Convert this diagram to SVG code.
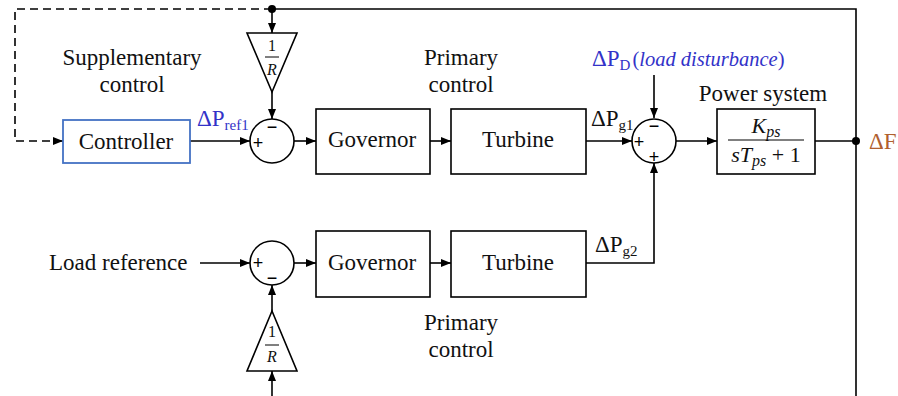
<svg xmlns="http://www.w3.org/2000/svg" width="898" height="396" viewBox="0 0 898 396">
<style>
.ln{fill:none;stroke:#000;stroke-width:1.6}
.arr{marker-end:url(#ah)}
.box{fill:#fff;stroke:#000;stroke-width:1.6}
.ctl{fill:#fff;stroke:#4472C4;stroke-width:1.8}
.t{font-family:"Liberation Serif","Times New Roman",serif;font-size:23px;fill:#111}
.c{text-anchor:middle}
.blue{fill:#3232C8}
.brown{fill:#B0602E}
.m{font-family:"Liberation Serif","Times New Roman",serif;font-style:italic;fill:#111}
.up{font-style:normal}
.sg{font-family:"Liberation Sans",Arial,sans-serif;font-size:18px;text-anchor:middle;fill:#000}
</style>
<defs>
<marker id="ah" viewBox="0 0 10 8" refX="10" refY="4" markerWidth="10" markerHeight="8" markerUnits="userSpaceOnUse" orient="auto">
<path d="M0,0 L10,4 L0,8 Z" fill="#000"/>
</marker>
</defs>
<rect width="898" height="396" fill="#fff"/>

<g id="connectors">
<path class="ln arr" d="M272,9 H15 V141 H63" stroke-dasharray="8,5"/>
<path class="ln" d="M272,9 H856 V396"/>
<path class="ln arr" d="M272,9 V33"/>
<path class="ln arr" d="M272,92 V119"/>
<path class="ln arr" d="M190,141 H250"/>
<path class="ln arr" d="M294,141 H316"/>
<path class="ln arr" d="M430,141 H451"/>
<path class="ln arr" d="M586,141 H632"/>
<path class="ln arr" d="M654,75 V118"/>
<path class="ln arr" d="M676,141 H717"/>
<path class="ln" d="M815,141 H856"/>
<path class="ln arr" d="M200,263 H250"/>
<path class="ln arr" d="M294,263 H316"/>
<path class="ln arr" d="M430,263 H451"/>
<path class="ln arr" d="M586,263 H654 V163"/>
<path class="ln arr" d="M272,396 V371"/>
<path class="ln arr" d="M272,311 V285"/>
<circle cx="272" cy="9" r="4" fill="#000"/>
<circle cx="856" cy="141" r="4" fill="#000"/>
</g>

<g id="controller">
<rect class="ctl" x="63" y="120" width="127" height="43"/>
<text class="t c" x="126" y="149">Controller</text>
</g>

<g id="gain1">
<path class="box" d="M247,33 H297 L272,92 Z"/>
<text class="t c" x="272" y="51" font-size="16" style="font-size:16px">1</text>
<line x1="265" y1="57" x2="279" y2="57" stroke="#000" stroke-width="1"/>
<text class="m c" x="272" y="75" font-size="16">R</text>
</g>

<g id="sum1">
<circle class="box" cx="272" cy="141" r="22"/>
<text class="sg" x="258" y="149">+</text>
<text class="sg" x="272" y="133">−</text>
</g>

<g id="governor1">
<rect class="box" x="316" y="109" width="114" height="65"/>
<text class="t c" x="372" y="147">Governor</text>
</g>

<g id="turbine1">
<rect class="box" x="451" y="109" width="135" height="65"/>
<text class="t c" x="518" y="147">Turbine</text>
</g>

<g id="sum2">
<circle class="box" cx="654" cy="141" r="22"/>
<text class="sg" x="639" y="148">+</text>
<text class="sg" x="654" y="132">−</text>
<text class="sg" x="654" y="163">+</text>
</g>

<g id="powersystem">
<rect class="box" x="717" y="109" width="98" height="65"/>
<text class="m c" x="766" y="133" font-size="22">K<tspan font-size="16" dy="4">ps</tspan></text>
<line x1="728" y1="140" x2="804" y2="140" stroke="#000" stroke-width="1"/>
<text class="m c" x="766" y="162" font-size="22">sT<tspan font-size="16" dy="4">ps</tspan><tspan dy="-4" class="up"> + 1</tspan></text>
</g>

<g id="sum3">
<circle class="box" cx="272" cy="263" r="22"/>
<text class="sg" x="258" y="269">+</text>
<text class="sg" x="272" y="284">−</text>
</g>

<g id="governor2">
<rect class="box" x="316" y="231" width="114" height="66"/>
<text class="t c" x="372" y="270">Governor</text>
</g>

<g id="turbine2">
<rect class="box" x="451" y="231" width="135" height="66"/>
<text class="t c" x="518" y="270">Turbine</text>
</g>

<g id="gain2">
<path class="box" d="M247,371 H297 L272,311 Z"/>
<text class="t c" x="272" y="337" style="font-size:16px">1</text>
<line x1="265" y1="345" x2="279" y2="345" stroke="#000" stroke-width="1"/>
<text class="m c" x="272" y="362" font-size="16">R</text>
</g>

<g id="labels">
<text class="t c" x="132" y="65">Supplementary</text>
<text class="t c" x="132" y="92">control</text>
<text class="t c" x="461" y="65">Primary</text>
<text class="t c" x="461" y="92">control</text>
<text class="t c" x="461" y="330">Primary</text>
<text class="t c" x="461" y="357">control</text>
<text class="t" x="49" y="270">Load reference</text>
<text class="t c" x="763" y="101">Power system</text>
<text class="t blue" x="197" y="126">ΔP<tspan font-size="15" dy="4">ref1</tspan></text>
<text class="t" x="591" y="126">ΔP<tspan font-size="15" dy="4">g1</tspan></text>
<text class="t" x="595" y="252">ΔP<tspan font-size="15" dy="4">g2</tspan></text>
<text class="t blue" x="592" y="66">ΔP<tspan font-size="15" dy="4">D</tspan><tspan font-size="20.5" dy="-4" dx="2">(</tspan><tspan font-size="20.5" font-style="italic">load disturbance</tspan><tspan font-size="20.5">)</tspan></text>
<text class="t brown" x="869" y="149">ΔF</text>
</g>
</svg>
